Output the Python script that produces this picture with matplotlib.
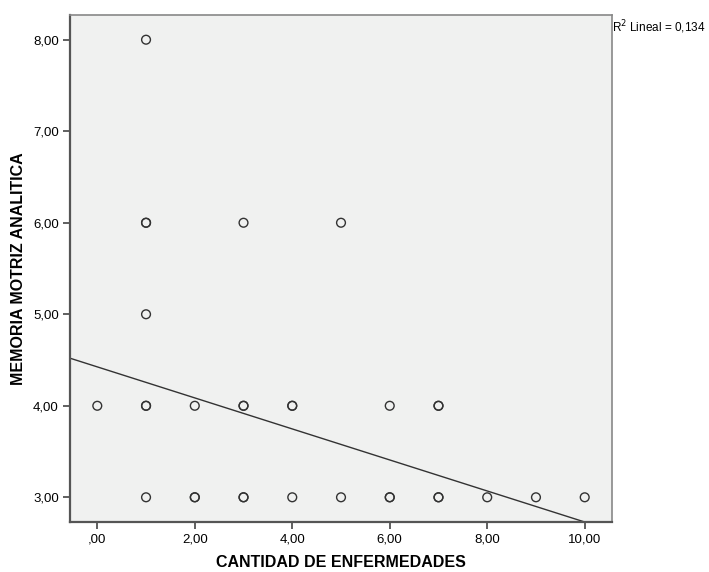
import matplotlib.pyplot as plt
import numpy as np

plt.rcParams['font.family'] = ['Liberation Sans', 'DejaVu Sans']

# cantidad de enfermedades (x) y memoria motriz analitica (y)
# repeated pairs show up as darker circles
enfermedades = [1,
                1, 1, 3, 5,
                1,
                0, 1, 1, 2, 3, 3, 4, 4, 6, 7, 7,
                1, 2, 2, 3, 3, 4, 5, 6, 6, 7, 7, 8, 9, 10]
memoria = [8,
           6, 6, 6, 6,
           5,
           4, 4, 4, 4, 4, 4, 4, 4, 4, 4, 4,
           3, 3, 3, 3, 3, 3, 3, 3, 3, 3, 3, 3, 3, 3]

# fit line as shown in the picture
intercept = 4.425
slope = -0.1695
r2_text = "0,134"

x_ticks = [0, 2, 4, 6, 8, 10]
x_labels = [",00", "2,00", "4,00", "6,00", "8,00", "10,00"]
y_ticks = [3, 4, 5, 6, 7, 8]
y_labels = ["3,00", "4,00", "5,00", "6,00", "7,00", "8,00"]

fig = plt.figure(figsize=(7.09, 5.72), dpi=100)
ax = fig.add_axes([70 / 709, 50 / 572, 542 / 709, 507 / 572])
ax.set_facecolor("#f0f1f0")

ax.scatter(enfermedades, memoria, s=40, facecolors="none",
           edgecolors="#333333", linewidths=1.0, zorder=3)

xlim = (-0.56, 10.56)
xs = np.array(xlim)
ax.plot(xs, intercept + slope * xs, color="#333333", lw=1.0, zorder=2)

ax.set_xlim(*xlim)
ax.set_ylim(2.73, 8.27)
ax.set_xticks(x_ticks)
ax.set_xticklabels(x_labels)
ax.set_yticks(y_ticks)
ax.set_yticklabels(y_labels)
ax.tick_params(direction="out", length=5, width=1.2, color="#444444",
               labelsize=9.5, pad=3)

for side in ["left", "bottom"]:
    ax.spines[side].set_color("#555555")
    ax.spines[side].set_linewidth(1.6)
for side in ["top", "right"]:
    ax.spines[side].set_color("#888888")
    ax.spines[side].set_linewidth(1.2)

ax.set_xlabel("CANTIDAD DE ENFERMEDADES", fontsize=11.5, fontweight="bold",
              labelpad=7)
ax.set_ylabel("MEMORIA MOTRIZ ANALITICA", fontsize=11.5, fontweight="bold",
              labelpad=5)

fig.text(612 / 709, 1 - 27 / 572, r"R$^2$ Lineal = " + r2_text,
         fontsize=8.5, va="center", ha="left")

fig.savefig("out.png", dpi=100)
